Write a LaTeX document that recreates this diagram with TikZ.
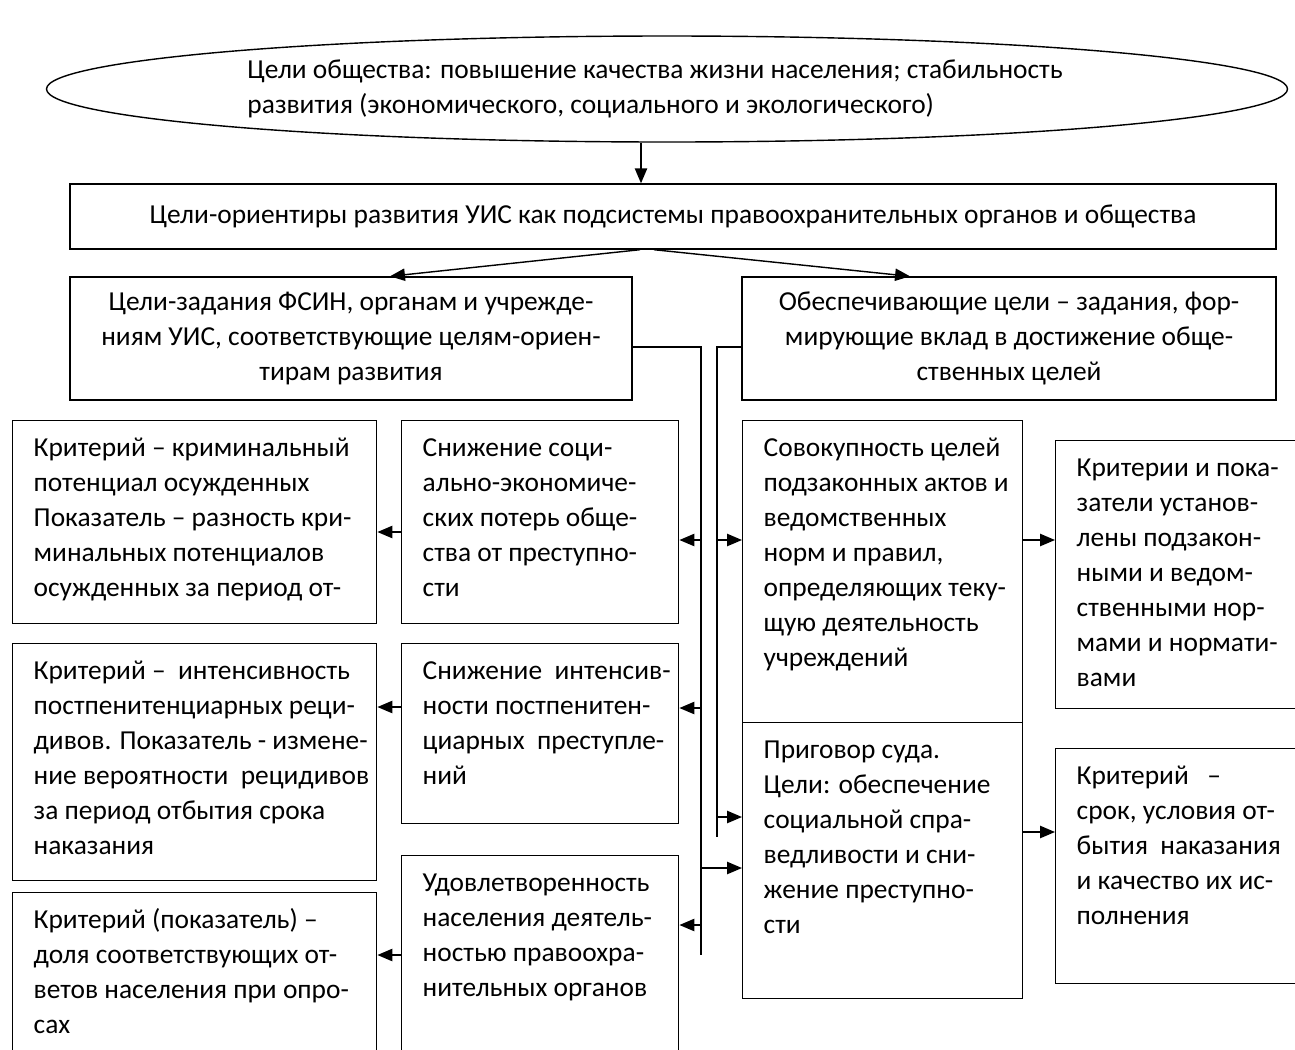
\documentclass[tikz,border=0pt]{standalone}
\usepackage{fontspec}
\setmainfont{Carlito}
\usetikzlibrary{shapes.geometric,arrows.meta,positioning}
\newdimen\pxu \pxu=0.02cm
% text cell: box width, box height, lines (top aligned, no wrapping)
\newcommand{\celltext}[3]{\parbox[t][#2\pxu][t]{#1\pxu}{\hspace*{21\pxu}\begin{tabular}[t]{@{}l@{}}\rule{0pt}{36\pxu}#3\end{tabular}}}

\begin{document}
\begin{tikzpicture}[x=0.02cm, y=-0.02cm, line width=0.8pt,
  every node/.style={font=\fontsize{15.6pt}{19.9pt}\selectfont},
  box/.style={draw, rectangle, anchor=north west, inner sep=0pt},
  arr/.style={-{Triangle[length=8.5pt,width=7pt]}}]
  \useasboundingbox (0,0) rectangle (1295,1049);
  \clip (0,0) rectangle (1295,1049);

  \node [draw, ellipse, minimum width=1241\pxu, minimum height=106\pxu, inner sep=0pt, align=left] (goal) at (667,89)
    {Цели общества: повышение качества жизни населения; стабильность\hspace*{24\pxu}\\развития (экономического, социального и экологического)};
  \node [draw, minimum width=1206\pxu, minimum height=65\pxu, inner sep=0pt] (orient) at (673,216.5)
    {Цели-ориентиры развития УИС как подсистемы правоохранительных органов и общества};

  \node [draw, minimum width=562\pxu, minimum height=123\pxu, inner sep=0pt, align=center] (taskL) at (351,338.5)
    {Цели-задания ФСИН, органам и учрежде-\\ниям УИС, соответствующие целям-ориен-\\тирам развития};
  \node [draw, minimum width=534\pxu, minimum height=123\pxu, inner sep=0pt, align=center] (taskR) at (1009,338.5)
    {Обеспечивающие цели – задания, фор-\\мирующие вклад в достижение обще-\\ственных целей};

  % left column
  \node [box] (critA) at (12,420) {\celltext{364}{203}{Критерий – криминальный\\потенциал осужденных\\Показатель – разность кри-\\минальных потенциалов\\осужденных за период от-}};
  \node [box] (critB) at (12,643) {\celltext{364}{237}{Критерий –\ \ интенсивность\\постпенитенциарных реци-\\дивов. Показатель - измене-\\ние вероятности\ \ рецидивов\\за период отбытия срока\\наказания}};
  \node [box] (critC) at (12,892) {\celltext{364}{200}{Критерий (показатель) –\\доля соответствующих от-\\ветов населения при опро-\\сах}};

  % middle column
  \node [box] (lossA) at (401,420) {\celltext{277}{203}{Снижение соци-\\ально-экономиче-\\ских потерь обще-\\ства от преступно-\\сти}};
  \node [box] (lossB) at (401,643) {\celltext{277}{180}{Снижение\ \ интенсив-\\ности постпенитен-\\циарных\ \ преступле-\\ний}};
  \node [box] (lossC) at (401,855) {\celltext{277}{220}{Удовлетворенность\\населения деятель-\\ностью правоохра-\\нительных органов}};

  % right columns
  \node [box] (normA) at (742,420) {\celltext{280}{302}{Совокупность целей\\подзаконных актов и\\ведомственных\\норм и правил,\\определяющих теку-\\щую деятельность\\учреждений}};
  \node [box] (courtA) at (742,722) {\celltext{280}{276}{Приговор суда.\\Цели: обеспечение\\социальной спра-\\ведливости и сни-\\жение преступно-\\сти}};
  \node [box] (normC) at (1055,440) {\celltext{260}{268}{Критерии и пока-\\затели установ-\\лены подзакон-\\ными и ведом-\\ственными нор-\\мами и нормати-\\вами}};
  \node [box] (courtC) at (1055,748) {\celltext{260}{235}{Критерий\ \ \ –\\срок, условия от-\\бытия\ \ наказания\\и качество их ис-\\полнения}};

  % top arrows
  \coordinate (dropx) at (641,0);
  \draw [arr] (goal.south -| dropx) -- (orient.north -| dropx);
  \draw [arr] ([xshift=-33\pxu]orient.south) -- ([xshift=39\pxu]taskL.north);
  \draw [arr] ([xshift=-19\pxu]orient.south) -- ([xshift=-99\pxu]taskR.north);

  % trunks
  \coordinate (trunkL) at (701,955);
  \coordinate (trunkR) at (717,837);
  \draw ([yshift=-8.5\pxu]taskL.east) -| (trunkL);
  \draw ([yshift=-8.5\pxu]taskR.west) -| (trunkR);

  \foreach \y/\to in {540/lossA, 708/lossB, 925/lossC}
    \draw [arr] (trunkL |- 0,\y) -- (\to.east |- 0,\y);
  \draw [arr] (trunkL |- 0,868) -- (courtA.west |- 0,868);
  \draw [arr] (trunkR |- 0,540) -- (normA.west |- 0,540);
  \draw [arr] (trunkR |- 0,817) -- (courtA.west |- 0,817);

  \foreach \y/\from/\to in {532/lossA/critA, 707/lossB/critB, 955/lossC/critC}
    \draw [arr] (\from.west |- 0,\y) -- (\to.east |- 0,\y);
  \draw [arr] (normA.east |- 0,540) -- (normC.west |- 0,540);
  \draw [arr] (courtA.east |- 0,832) -- (courtC.west |- 0,832);
\end{tikzpicture}
\end{document}
